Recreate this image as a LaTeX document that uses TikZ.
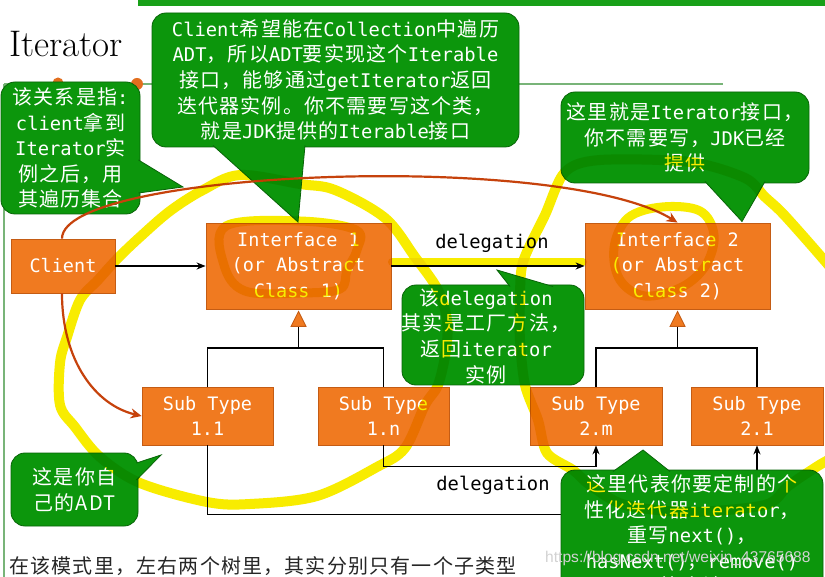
\documentclass[tikz,border=0pt]{standalone}
\usepackage{fontspec}
\usetikzlibrary{arrows.meta,calc}
\newfontfamily\monofont{DejaVu Sans Mono}
\newfontfamily\cjkfont[LetterSpace=6]{Noto Sans CJK SC}
\newfontfamily\wmfont{Liberation Sans}
\newcommand\ZH[1]{{\cjkfont\fontsize{20}{25.5}\selectfont #1}}
\definecolor{boxorange}{RGB}{240,122,32}
\definecolor{boxedge}{RGB}{196,92,20}
\definecolor{cgreen}{RGB}{12,150,12}
\definecolor{cgreenedge}{RGB}{8,100,8}
\definecolor{hl}{RGB}{248,236,0}
\definecolor{redcurve}{RGB}{198,66,12}
\definecolor{linegreen}{RGB}{120,180,120}
\definecolor{bargreen}{RGB}{24,160,24}
\definecolor{dotorange}{RGB}{226,110,30}
\tikzset{
  box/.style={draw=boxedge, line width=0.8pt, fill=boxorange, text=white,
    font=\monofont\fontsize{18.5}{25.5}\selectfont, align=center, inner sep=0pt},
  callout/.style={draw=cgreenedge, line width=0.8pt, fill=cgreen, rounded corners=14pt,
    text=white, font=\monofont\fontsize{18.8}{25.6}\selectfont, align=center, inner sep=0pt},
  callouttext/.style={text=white, font=\monofont\fontsize{18.8}{25.6}\selectfont, align=center, inner sep=0pt},
  conn/.style={draw=black, line width=1.6pt},
  arr/.style={conn, -{Stealth[length=9pt,width=7pt]}},
  lbl/.style={font=\monofont\fontsize{18.8}{22}\selectfont, text=black, inner sep=0pt},
  redarr/.style={draw=redcurve, line width=2.2pt, -{Stealth[length=11pt,width=10pt]}},
  hlstroke/.style={draw=hl, line width=10pt, line cap=round, line join=round},
  tailfill/.style={fill=cgreen},
  tailedge/.style={draw=cgreenedge, line width=0.8pt},
  inhtri/.style={fill=boxorange, draw=boxedge, line width=0.8pt},
}
\newcommand\calltail[3]{%
  \fill[tailfill] (#1) -- (#2) -- (#3) -- cycle;
  \draw[tailedge] (#1) -- (#2) -- (#3);}
\begin{document}
\begin{tikzpicture}[x=1pt,y=-1pt]
\useasboundingbox (0,0) rectangle (825,577);
\begin{scope}
\clip (0,0) rectangle (825,577);
\fill[white] (0,0) rectangle (825,577);
% slide decoration
\fill[bargreen] (138,0) rectangle (825,6);
\draw[linegreen, line width=1.2pt] (4,84) -- (723,84);
\draw[linegreen, line width=1.2pt] (4,84) -- (4,577);
\fill[dotorange] (58,83) circle[radius=5.5pt];
\fill[dotorange] (137,84) circle[radius=6pt];
\node[anchor=base west, font=\fontsize{37}{42}\selectfont, inner sep=0pt] (title) at (9,57) {Iterator};

% boxes
\node[box, minimum width=104pt, minimum height=54pt] (client) at (63,266) {Client};
\node[box, minimum width=185pt, minimum height=86pt] (if1) at (298.5,266) {Interface 1\\(or Abstract\\Class 1)};
\node[box, minimum width=185pt, minimum height=86pt] (if2) at (677.5,266) {Interface 2\\(or Abstract\\Class 2)};
\node[box, minimum width=131pt, minimum height=58pt] (st11) at (207.5,416) {Sub Type\\1.1};
\node[box, minimum width=131pt, minimum height=58pt] (st1n) at (383.5,416) {Sub Type\\1.n};
\node[box, minimum width=132pt, minimum height=58pt] (st2m) at (596,416) {Sub Type\\2.m};
\node[box, minimum width=132pt, minimum height=58pt] (st21) at (757,416) {Sub Type\\2.1};

% inheritance trees
\coordinate (j1) at (298.5,348);
\coordinate (j2) at (677.5,348);
\draw[conn] (st11.north) |- (j1) -| (st1n.north);
\draw[conn] (j1) -- ($(if1.south)+(0,17)$);
\filldraw[inhtri] ($(if1.south)+(0,2)$) -- ($(if1.south)+(-7.5,17)$) -- ($(if1.south)+(7.5,17)$) -- cycle;
\draw[conn] (st2m.north) |- (j2) -| (st21.north);
\draw[conn] (j2) -- ($(if2.south)+(0,17)$);
\filldraw[inhtri] ($(if2.south)+(0,2)$) -- ($(if2.south)+(-7.5,17)$) -- ($(if2.south)+(7.5,17)$) -- cycle;

% associations and delegations
\draw[arr] (client.east) -- (if1.west);
\draw[arr] (if1.east) -- node[lbl, above=13pt, xshift=4pt] (dl1) {delegation} (if2.west);
\draw[arr] (st1n.south) -- ++(0,21) -| (st2m.south);
\draw[arr] (st11.south) -- ++(0,69) -| (st21.south);
\node[lbl] (dl2) at (493,485) {delegation};

% callouts
\node[callout, minimum width=367pt, minimum height=134pt] (c1) at (335.5,80)
 {Client\ZH{希望能在}Collection\ZH{中遍历}\\ADT\ZH{，所以}ADT\ZH{要实现这个}Iterable\\\ZH{接口，能够通过}getIterator\ZH{返回}\\\ZH{迭代器实例。你不需要写这个类，}\\\ZH{就是}JDK\ZH{提供的}Iterable\ZH{接口}};
\coordinate (c1a) at (213,145.5); \coordinate (c1tip) at (298,222); \coordinate (c1b) at (305,145.5);
\calltail{c1a}{c1tip}{c1b}

\node[callout, minimum width=139pt, minimum height=132pt] (c2) at (70.5,148)
 {\ZH{该关系是指}:\\client\ZH{拿到}\\Iterator\ZH{实}\\\ZH{例之后，用}\\\ZH{其遍历集合}};
\coordinate (c2a) at (138.5,160); \coordinate (c2tip) at (183,187); \coordinate (c2b) at (138.5,193);
\calltail{c2a}{c2tip}{c2b}

\node[callout, minimum width=248pt, minimum height=91pt] (c3) at (685,137.5)
 {\ZH{这里就是}Iterator\ZH{接口，}\\\ZH{你不需要写，}JDK\ZH{已经}\\\ZH{提供}};
\coordinate (c3a) at (705,181.5); \coordinate (c3tip) at (742,221.5); \coordinate (c3b) at (765,181.5);
\calltail{c3a}{c3tip}{c3b}

\node[callout, minimum width=182pt, minimum height=100pt] (c4) at (493,335) {};
\node[callouttext] (c4t) at (486,336)
 {\ZH{该}delegation\\\ZH{其实是工厂方法，}\\\ZH{返回}iterator\\\ZH{实例}};
\coordinate (c4a) at (510,286.5); \coordinate (c4tip) at (497,270); \coordinate (c4b) at (553,286.5);
\calltail{c4a}{c4tip}{c4b}

\node[callout, minimum width=127pt, minimum height=73pt] (c5) at (74.5,489.5)
 {\ZH{这是你自}\\\ZH{己的ADT}};
\coordinate (c5a) at (136.5,463); \coordinate (c5tip) at (161,455); \coordinate (c5b) at (136.5,480);
\calltail{c5a}{c5tip}{c5b}

\node[callout, minimum width=262pt, minimum height=130pt] (c6) at (692,535)
 {\ZH{这里代表你要定制的个}\\\ZH{性化迭代器}iterator\ZH{，}\\\ZH{重写}next()\ZH{，}\\hasNext()\ZH{，}remove()\\\ZH{等方法}};
\coordinate (c6a) at (613,471.5); \coordinate (c6tip) at (643,450); \coordinate (c6b) at (670,471.5);
\calltail{c6a}{c6tip}{c6b}

% hand-drawn red arrows
\draw[redarr] ([xshift=-1pt]client.north) .. controls (62,170) and (560,150) .. (if2.north);
\draw[redarr] ([xshift=-1pt]client.south) .. controls (62,360) and (95,405) .. (st11.west);

% bottom note and watermark
\node[anchor=west, inner sep=0pt, text=black!85] (note) at (9,566)
 {\ZH{在该模式里，左右两个树里，其实分别只有一个子类型}};
\node[anchor=west, inner sep=0pt, font=\wmfont\fontsize{15.6}{17}\selectfont, text=gray!35] (wm) at (545,558)
 {https://blog.csdn.net/weixin\_43765688};

% highlighter strokes
\begin{scope}[blend mode=multiply]
\draw[hlstroke] plot[smooth cycle, tension=0.55] coordinates {
 (118,258) (140,237) (170,211) (203,190) (240,175) (300,184) (335,190) (385,218)
 (415,257) (438,290) (447,320) (446,350) (438,385) (425,405) (405,448) (377,467)
 (317,496) (250,504) (207,502) (140,483) (100,457) (75,427) (60,405) (60,363)
 (67,337) (80,300) (98,280)};
\draw[hlstroke] plot[smooth cycle, tension=0.5] coordinates {
 (523,262) (545,215) (565,172) (600,160) (690,162) (745,178) (765,197) (787,218)
 (845,285) (910,370) (890,440) (835,457) (807,473) (787,487) (765,505) (690,512)
 (625,505) (590,485) (573,470) (547,453) (538,420) (525,385) (520,340) (520,300)};
\draw[hlstroke, line width=8pt] (392,262) -- (583,262);
\draw[hlstroke, line width=9pt] plot[smooth cycle, tension=0.6] coordinates {
 (226,226) (300,221) (356,230) (357,250) (347,270) (340,289) (300,293) (245,291) (224,265)};
\draw[hlstroke, line width=9pt] plot[smooth cycle, tension=0.6] coordinates {
 (614,248) (628,218) (662,207) (700,211) (714,235) (706,265) (682,287) (645,296) (620,280)};
\end{scope}
\end{scope}
\end{tikzpicture}
\end{document}
